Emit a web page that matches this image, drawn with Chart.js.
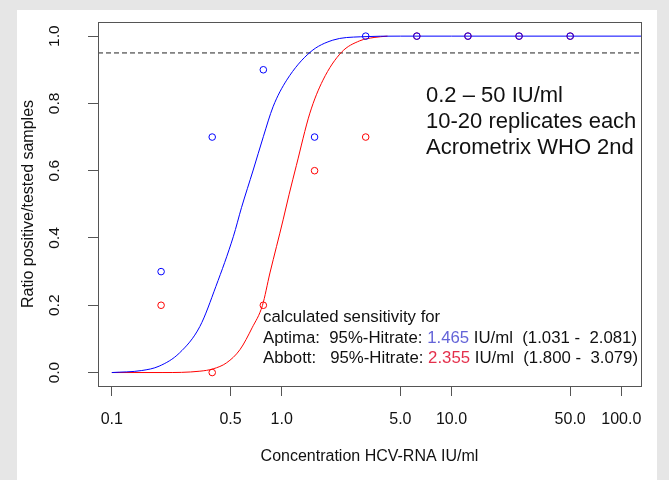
<!DOCTYPE html>
<html>
<head>
<meta charset="utf-8">
<script src="https://cdn.jsdelivr.net/npm/chart.js@4.4.0/dist/chart.umd.min.js"></script>
<style>
    html, body { margin: 0; padding: 0; background: #e6e6e6; }
    #panel { position: absolute; left: 17px; top: 10px; width: 640px; height: 470px; background: #fff; }
</style>
</head>
<body>
<div id="panel"><canvas id="chart" width="640" height="470"></canvas></div>
<script>
// dilution series (IU/ml) and ratio of positive / tested samples
var concentrations = [0.195, 0.39, 0.78, 1.5625, 3.125, 6.25, 12.5, 25, 50];
var aptimaRatio = [0.3, 0.7, 0.9, 0.7, 1, 1, 1, 1, 1];
var abbottRatio = [0.2, 0.0, 0.2, 0.6, 0.7, 1, 1, 1, 1];

// fitted curves
var aptimaFitX = [0.1, 0.15, 0.19, 0.25, 0.33, 0.41, 0.52, 0.58, 0.68, 0.78, 0.89, 1.07, 1.47, 2.0, 2.9, 5, 10, 50, 140];
var aptimaFitY = [0.0, 0.006, 0.019, 0.058, 0.137, 0.256, 0.405, 0.49, 0.602, 0.701, 0.79, 0.869, 0.952, 0.988, 0.998, 1.0, 1.0, 1.0, 1.0];
var abbottFitX = [0.1, 0.2, 0.33, 0.395, 0.474, 0.568, 0.67, 0.77, 0.853, 0.933, 1.02, 1.107, 1.22, 1.466, 1.75, 2.25, 2.88, 3.5, 4.2];
var abbottFitY = [0.0, 0.0, 0.004, 0.011, 0.029, 0.068, 0.133, 0.199, 0.296, 0.375, 0.454, 0.53, 0.615, 0.771, 0.869, 0.952, 0.986, 0.996, 1.0];

var hitrateLevel = 0.95;
var xTickValues = [0.1, 0.5, 1, 5, 10, 50, 100];
var xTickLabels = ["0.1", "0.5", "1.0", "5.0", "10.0", "50.0", "100.0"];
var yTickValues = [0, 0.2, 0.4, 0.6, 0.8, 1.0];

var infoLines = ["0.2 \u2013 50 IU/ml", "10-20 replicates each", "Acrometrix WHO 2nd"];
var sensitivityTitle = "calculated sensitivity for";
var sensitivityRows = [
    ["Aptima:  95%-Hitrate: ", "1.465", " IU/ml  (1.031 -  2.081)"],
    ["Abbott:   95%-Hitrate: ", "2.355", " IU/ml  (1.800 -  3.079)"]
];
var sensitivityColors = ["#6464d8", "#e4304c"];

const xMin = 0.0829
const xMax = 130.6
const fontFamily = "'Liberation Sans', Arial, sans-serif"

function toPoints(xs, ys) {
    var pts = []
    for (var i = 0; i < xs.length; i++)
        pts.push({ x: xs[i], y: ys[i] })
    return pts
}

// Draws the plot box and the text blocks inside it
const annotationPlugin = {
    id: 'annotations',
    afterDraw: (chart) => {
        var { ctx, chartArea } = chart;
        ctx.save();

        ctx.strokeStyle = '#555';
        ctx.lineWidth = 1;
        ctx.strokeRect(chartArea.left + 0.5, chartArea.top + 0.5,
            chartArea.right - chartArea.left, chartArea.bottom - chartArea.top);

        ctx.fillStyle = '#111';
        ctx.textBaseline = 'middle';
        ctx.textAlign = 'left';

        ctx.font = "22px " + fontFamily;
        for (var i = 0; i < infoLines.length; i++)
            ctx.fillText(infoLines[i], 409, 86 + i * 26);

        ctx.font = "16.8px " + fontFamily;
        ctx.fillText(sensitivityTitle, 246, 307);
        for (var r = 0; r < sensitivityRows.length; r++) {
            var x = 246;
            var y = 328 + r * 20;
            var parts = sensitivityRows[r];
            for (var p = 0; p < parts.length; p++) {
                ctx.fillStyle = p == 1 ? sensitivityColors[r] : '#111';
                ctx.fillText(parts[p], x, y);
                x += ctx.measureText(parts[p]).width;
            }
        }
        ctx.restore();
    }
};

// Keeps the plot region fixed: no extra room for overhanging tick labels
function noOverhang(scale) {
    scale.paddingTop = 0;
    scale.paddingBottom = 0;
    scale.paddingLeft = 0;
    scale.paddingRight = 0;
}

var myChart = new Chart(document.getElementById('chart'), {
    type: 'scatter',
    data: {
        datasets: [{
            label: 'Aptima',
            data: toPoints(concentrations, aptimaRatio),
            borderColor: 'blue',
            backgroundColor: 'rgba(0,0,0,0)',
            borderWidth: 1,
            pointRadius: 3.3
        }, {
            label: 'Abbott',
            data: toPoints(concentrations, abbottRatio),
            borderColor: 'red',
            backgroundColor: 'rgba(0,0,0,0)',
            borderWidth: 1,
            pointRadius: 3.3
        }, {
            label: 'Aptima fit',
            data: toPoints(aptimaFitX, aptimaFitY),
            showLine: true,
            borderColor: 'blue',
            borderWidth: 1,
            pointRadius: 0,
            cubicInterpolationMode: 'monotone'
        }, {
            label: 'Abbott fit',
            data: toPoints(abbottFitX, abbottFitY),
            showLine: true,
            borderColor: 'red',
            borderWidth: 1,
            pointRadius: 0,
            cubicInterpolationMode: 'monotone'
        }, {
            label: '95%',
            data: [{ x: xMin, y: hitrateLevel }, { x: xMax, y: hitrateLevel }],
            showLine: true,
            borderColor: '#222',
            borderWidth: 1,
            borderDash: [5, 3],
            pointRadius: 0
        }]
    },
    options: {
        responsive: false,
        animation: false,
        devicePixelRatio: 1,
        layout: { padding: { left: 0, top: 12, right: 16, bottom: 0 } },
        plugins: {
            legend: { display: false },
            tooltip: { enabled: false }
        },
        scales: {
            x: {
                type: 'logarithmic',
                min: xMin,
                max: xMax,
                afterBuildTicks: (scale) => {
                    scale.ticks = xTickValues.map(v => ({ value: v }));
                },
                afterFit: (scale) => { scale.height = 94; noOverhang(scale); },
                ticks: {
                    autoSkip: false,
                    maxRotation: 0,
                    padding: 14,
                    color: '#111',
                    font: { size: 16, family: fontFamily },
                    callback: (value, index) => xTickLabels[index]
                },
                grid: { drawOnChartArea: false, drawTicks: true, tickLength: 10, color: '#555' },
                border: { display: false },
                title: {
                    display: true,
                    text: 'Concentration HCV-RNA IU/ml',
                    color: '#111',
                    font: { size: 16, family: fontFamily },
                    padding: { top: 0, bottom: 14 }
                }
            },
            y: {
                min: -0.04,
                max: 1.042,
                afterBuildTicks: (scale) => {
                    scale.ticks = yTickValues.map(v => ({ value: v }));
                },
                afterFit: (scale) => { scale.width = 81; noOverhang(scale); },
                ticks: {
                    minRotation: 90,
                    maxRotation: 90,
                    crossAlign: 'center',
                    padding: 23,
                    color: '#111',
                    font: { size: 15.5, family: fontFamily },
                    callback: (value) => value.toFixed(1)
                },
                grid: { drawOnChartArea: false, drawTicks: true, tickLength: 10, color: '#555' },
                border: { display: false },
                title: {
                    display: true,
                    text: 'Ratio positive/tested samples',
                    color: '#111',
                    font: { size: 16, family: fontFamily },
                    padding: { top: 2, bottom: 0 }
                }
            }
        }
    },
    plugins: [annotationPlugin]
});
</script>
</body>
</html>
